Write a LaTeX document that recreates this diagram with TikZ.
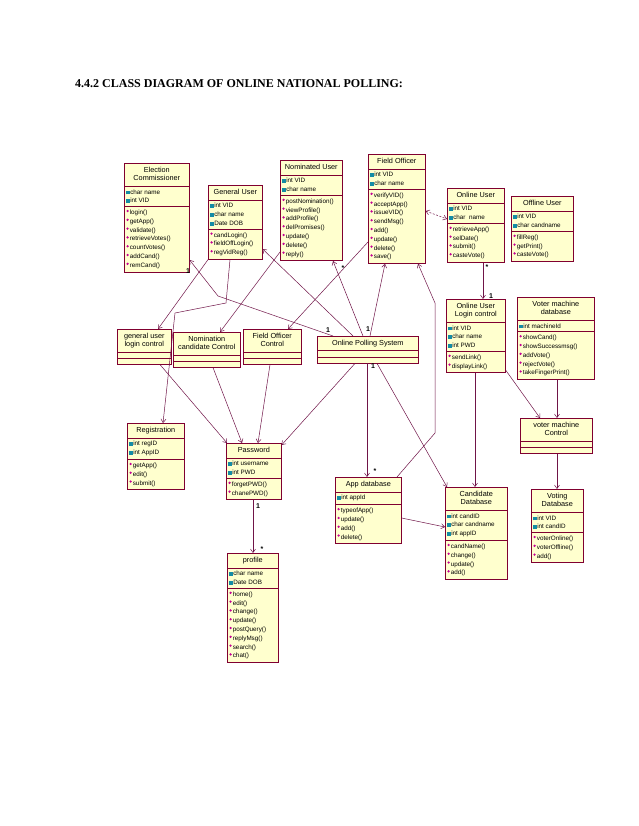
\documentclass[tikz,border=0pt]{standalone}
\usepackage{fontspec}
\setmainfont{Liberation Sans}
\newfontfamily\titlefont{Liberation Serif}
\usepackage{xcolor}
\usepackage{tikz}
\usetikzlibrary{shapes.multipart,arrows.meta}
\definecolor{umlFill}{RGB}{255,255,206}
\definecolor{umlLine}{RGB}{128,0,48}
\definecolor{umlArrow}{RGB}{112,20,72}
\definecolor{umlAttrIcon}{RGB}{20,140,165}
\definecolor{umlOpIcon}{RGB}{196,0,150}
\newcommand{\umlname}[1]{{\fontsize{7.3}{8.2}\selectfont\begin{tabular}{@{}c@{}}#1\end{tabular}}}
\newcommand{\umlattr}[1]{{\color{umlAttrIcon}\rule[-0.2pt]{3.2pt}{3.8pt}}\hspace{0.8pt}#1}
\newcommand{\umlop}[1]{\raisebox{2.2pt}{\color{umlOpIcon}\rotatebox{45}{\rule{1.8pt}{1.8pt}}}\hspace{1pt}#1}
\newcommand{\umlnone}{\rule{1pt}{0pt}}
\tikzset{
  umlclass/.style={rectangle split, rectangle split parts=3, rectangle split part align={center,left,left},
    draw=umlLine, fill=umlFill, line width=0.6pt, align=left, anchor=north west,
    inner xsep=2pt, inner ysep=3pt, font=\fontsize{6.3}{8.8}\selectfont},
  ctrlclass/.style={rectangle split, rectangle split parts=3, draw=umlLine, fill=umlFill, line width=0.6pt,
    anchor=north west, inner xsep=2pt, inner ysep=2.8pt},
  assocarrow/.style={-{Straight Barb[length=3.5pt,width=5pt]}, draw=umlArrow, line width=0.5pt},
  dependarrow/.style={{Straight Barb[length=3.5pt,width=5pt]}-{Straight Barb[length=3.5pt,width=5pt]},
    draw=umlArrow, line width=0.5pt, dash pattern=on 2pt off 1.5pt},
  multlabel/.style={font=\fontsize{7}{7}\selectfont\bfseries, inner sep=0pt},
  titletext/.style={font=\titlefont\fontsize{12}{14}\selectfont\bfseries, inner sep=0pt, anchor=base west},
}
\begin{document}
\begin{tikzpicture}[x=1pt,y=-1pt]
  \fill[white] (0,0) rectangle (638,826);
  \useasboundingbox (0,0) rectangle (638,826);

  \node[titletext] (title) at (75,88) {4.4.2 CLASS DIAGRAM OF ONLINE NATIONAL POLLING:};

  \node[umlclass, minimum width=65pt] (ec) at (124,163)
    {\umlname{Election\\Commissioner}
    \nodepart{two}\umlattr{char name}\\\umlattr{int VID}
    \nodepart{three}\umlop{login()}\\\umlop{getApp()}\\\umlop{validate()}\\\umlop{retrieveVotes()}\\
    \umlop{countVotes()}\\\umlop{addCand()}\\\umlop{remCand()}};

  \node[umlclass, minimum width=54pt] (gu) at (208,185)
    {\umlname{General User}
    \nodepart{two}\umlattr{int VID}\\\umlattr{char name}\\\umlattr{Date DOB}
    \nodepart{three}\umlop{candLogin()}\\\umlop{fieldOffLogin()}\\\umlop{regVidReg()}};

  \node[umlclass, minimum width=62pt] (nu) at (280,160)
    {\umlname{Nominated User}
    \nodepart{two}\umlattr{int VID}\\\umlattr{char name}
    \nodepart{three}\umlop{postNomination()}\\\umlop{viewProfile()}\\\umlop{addProfile()}\\
    \umlop{delPromises()}\\\umlop{update()}\\\umlop{delete()}\\\umlop{reply()}};

  \node[umlclass, minimum width=57pt] (fo) at (368,154)
    {\umlname{Field Officer}
    \nodepart{two}\umlattr{int VID}\\\umlattr{char name}
    \nodepart{three}\umlop{verifyVID()}\\\umlop{acceptApp()}\\\umlop{issueVID()}\\\umlop{sendMsg()}\\
    \umlop{add()}\\\umlop{update()}\\\umlop{delete()}\\\umlop{save()}};

  \node[umlclass, minimum width=57pt] (ou) at (447,188)
    {\umlname{Online User}
    \nodepart{two}\umlattr{int VID}\\\umlattr{char\ \ name}
    \nodepart{three}\umlop{retrieveApp()}\\\umlop{selDate()}\\\umlop{submit()}\\\umlop{casteVote()}};

  \node[umlclass, minimum width=62pt] (offu) at (511,196)
    {\umlname{Offline User}
    \nodepart{two}\umlattr{int VID}\\\umlattr{char candname}
    \nodepart{three}\umlop{fillReg()}\\\umlop{getPrint()}\\\umlop{casteVote()}};

  \node[ctrlclass, minimum width=54pt] (glc) at (117,329)
    {\umlname{general user\\login control}\nodepart{two}\umlnone\nodepart{three}\umlnone};
  \node[ctrlclass, minimum width=67pt] (ncc) at (173,332)
    {\umlname{Nomination\\candidate Control}\nodepart{two}\umlnone\nodepart{three}\umlnone};
  \node[ctrlclass, minimum width=58pt] (foc) at (243,329)
    {\umlname{Field Officer\\Control}\nodepart{two}\umlnone\nodepart{three}\umlnone};
  \node[ctrlclass, minimum width=101pt] (ops) at (317,336)
    {\umlname{Online Polling System}\nodepart{two}\umlnone\nodepart{three}\umlnone};

  \node[umlclass, minimum width=59pt] (oulc) at (446,299)
    {\umlname{Online User\\Login control}
    \nodepart{two}\umlattr{int VID}\\\umlattr{char name}\\\umlattr{int PWD}
    \nodepart{three}\umlop{sendLink()}\\\umlop{displayLink()}};

  \node[umlclass, minimum width=77pt] (vmd) at (517,297)
    {\umlname{Voter machine\\database}
    \nodepart{two}\umlattr{int machineId}
    \nodepart{three}\umlop{showCand()}\\\umlop{showSuccessmsg()}\\\umlop{addVote()}\\
    \umlop{rejectVote()}\\\umlop{takeFingerPrint()}};

  \node[ctrlclass, minimum width=72pt] (vmc) at (520,418)
    {\umlname{voter machine\\Control}\nodepart{two}\umlnone\nodepart{three}\umlnone};

  \node[umlclass, minimum width=57pt] (reg) at (127,423)
    {\umlname{Registration}
    \nodepart{two}\umlattr{int regID}\\\umlattr{int AppID}
    \nodepart{three}\umlop{getApp()}\\\umlop{edit()}\\\umlop{submit()}};

  \node[umlclass, minimum width=55pt] (pwd) at (226,443)
    {\umlname{Password}
    \nodepart{two}\umlattr{int username}\\\umlattr{int PWD}
    \nodepart{three}\umlop{forgetPWD()}\\\umlop{chanePWD()}};

  \node[umlclass, minimum width=66pt] (appdb) at (335,477)
    {\umlname{App database}
    \nodepart{two}\umlattr{int appId}
    \nodepart{three}\umlop{typeofApp()}\\\umlop{update()}\\\umlop{add()}\\\umlop{delete()}};

  \node[umlclass, minimum width=62pt] (cdb) at (445,487)
    {\umlname{Candidate\\Database}
    \nodepart{two}\umlattr{int candID}\\\umlattr{char candname}\\\umlattr{int appID}
    \nodepart{three}\umlop{candName()}\\\umlop{change()}\\\umlop{update()}\\\umlop{add()}};

  \node[umlclass, minimum width=52pt] (vdb) at (531,489)
    {\umlname{Voting\\Database}
    \nodepart{two}\umlattr{int VID}\\\umlattr{int candID}
    \nodepart{three}\umlop{voterOnline()}\\\umlop{voterOffline()}\\\umlop{add()}};

  \node[umlclass, minimum width=51pt] (prof) at (227,553)
    {\umlname{profile}
    \nodepart{two}\umlattr{char name}\\\umlattr{Date DOB}
    \nodepart{three}\umlop{home()}\\\umlop{edit()}\\\umlop{change()}\\\umlop{update()}\\
    \umlop{postQuery()}\\\umlop{replyMsg()}\\\umlop{search()}\\\umlop{chat()}};

  \draw[assocarrow] ([xshift=16pt]ops.north west) -- (218,296) -- ([yshift=-97pt]ec.north east);
  \draw[assocarrow] ([xshift=36pt]ops.north west) -- ([yshift=-64pt]gu.north east);
  \draw[assocarrow] ([xshift=46pt]ops.north west) -- ([xshift=53pt]nu.south west);
  \draw[assocarrow] ([xshift=53pt]ops.north west) -- ([xshift=17pt]fo.south west);
  \draw[assocarrow] ([xshift=62pt]appdb.north west) -- (435,433) -- (435,303) -- ([xshift=50pt]fo.south west);
  \draw[assocarrow] ([xshift=22pt]gu.south west) -- (226,303) -- (175,313) -- ([xshift=36pt]reg.north west);
  \draw[assocarrow] (gu.south west) -- ([xshift=41pt]glc.north west);
  \draw[assocarrow] ([yshift=-92pt]nu.north west) -- ([xshift=47pt]ncc.north west);
  \draw[assocarrow] ([yshift=-88pt]fo.north west) -- ([xshift=45pt]foc.north west);
  \draw[dependarrow] ([yshift=-57pt]fo.north east) -- ([yshift=-31pt]ou.north west);
  \draw[assocarrow] ([xshift=36pt]ou.south west) -- ([xshift=37pt]oulc.north west);
  \draw[assocarrow] ([xshift=43pt]glc.south west) -- ([xshift=1pt]pwd.north west);
  \draw[assocarrow] ([xshift=40pt]ncc.south west) -- ([xshift=16pt]pwd.north west);
  \draw[assocarrow] ([xshift=27pt]foc.south west) -- ([xshift=32pt]pwd.north west);
  \draw[assocarrow] ([xshift=38pt]ops.south west) -- ([yshift=-2pt]pwd.north east);
  \draw[assocarrow] ([xshift=50pt]ops.south west) -- ([xshift=32pt]appdb.north west);
  \draw[assocarrow] ([xshift=60pt]ops.south west) -- ([xshift=2pt]cdb.north west);
  \draw[assocarrow] ([xshift=29pt]oulc.south west) -- ([xshift=30pt]cdb.north west);
  \draw[assocarrow] ([yshift=-41pt]appdb.north east) -- ([yshift=-40pt]cdb.north west);
  \draw[assocarrow] ([yshift=3pt]oulc.south east) -- ([xshift=20pt]vmc.north west);
  \draw[assocarrow] ([xshift=40pt]vmd.south west) -- ([xshift=37pt]vmc.north west);
  \draw[assocarrow] ([xshift=37pt]vmc.south west) -- ([xshift=26pt]vdb.north west);
  \draw[assocarrow] ([xshift=27pt]pwd.south west) -- ([xshift=26pt]prof.north west);

  \node[multlabel] (m1) at (188,271) {1};
  \node[multlabel] (m2) at (328,330) {1};
  \node[multlabel] (m3) at (343,268) {*};
  \node[multlabel] (m4) at (368,329) {1};
  \node[multlabel] (m5) at (487,267) {*};
  \node[multlabel] (m6) at (491,296) {1};
  \node[multlabel] (m7) at (373,366) {1};
  \node[multlabel] (m8) at (375,471) {*};
  \node[multlabel] (m9) at (258,506) {1};
  \node[multlabel] (m10) at (262,549) {*};
\end{tikzpicture}
\end{document}
